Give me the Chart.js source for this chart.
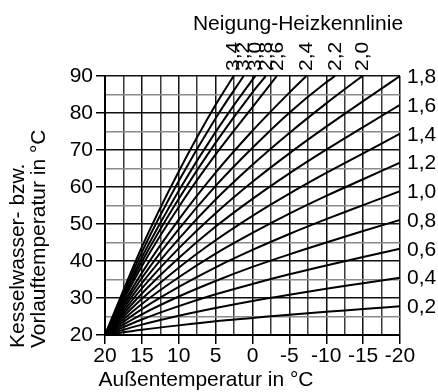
<!DOCTYPE html>
<html>
<head>
<meta charset="utf-8">
<script src="https://cdn.jsdelivr.net/npm/chart.js@4.4.1/dist/chart.umd.min.js"></script>
<style>
  html, body { margin: 0; padding: 0; background: #fff; }
  #c { display: block; }
</style>
</head>
<body>
<canvas id="c" width="438" height="392" style="width:438px;height:392px"></canvas>
<script>
// ---- data ----
const outsideTemp = [20, 15, 10, 5, 0, -5, -10, -15, -20];
const slopeLabels = ['0,2','0,4','0,6','0,8','1,0','1,2','1,4','1,6','1,8','2,0','2,2','2,4','2,6','2,8','3,0','3,2','3,4'];
const vt02 = [20, 21.4, 22.6, 23.7, 24.6, 25.5, 26.3, 27.0, 27.8];
const vt04 = [20, 22.8, 25.2, 27.3, 29.2, 30.9, 32.5, 34.0, 35.5];
const vt06 = [20, 24.2, 27.8, 31.0, 33.8, 36.4, 38.8, 41.1, 43.3];
const vt08 = [20, 25.6, 30.4, 34.6, 38.4, 41.8, 45.0, 48.1, 51.1];
const vt10 = [20, 27.0, 33.0, 38.3, 43.0, 47.3, 51.3, 55.1, 58.9];
const vt12 = [20, 28.4, 35.6, 42.0, 47.6, 52.8, 57.6, 62.1, 66.6];
const vt14 = [20, 29.8, 38.2, 45.6, 52.2, 58.2, 63.8, 69.1, 74.4];
const vt16 = [20, 31.2, 40.8, 49.3, 56.8, 63.7, 70.1, 76.2, 82.2];
const vt18 = [20, 32.6, 43.4, 52.9, 61.4, 69.1, 76.3, 83.2, 90.0];
const vt20 = [20, 34.0, 46.0, 56.6, 66.0, 74.6, 82.6, 90.0];
const vt22 = [20, 35.4, 48.6, 60.3, 70.6, 80.1, 88.3, 90.0];
const vt24 = [20, 36.8, 51.2, 63.9, 75.2, 85.5, 90.0];
const vt26 = [20, 38.6, 54.6, 68.8, 81.6, 90.0];
const vt28 = [20, 39.8, 56.8, 72.0, 85.6, 90.0];
const vt30 = [20, 41.0, 59.0, 74.9, 89.0, 90.0];
const vt32 = [20, 42.4, 61.6, 78.6, 90.0];
const vt34 = [20, 43.8, 64.2, 82.2, 90.0];
// outside temperature where the steep curves (2,0 ... 3,4) reach the top edge (90 °C)
const topCrossTemp = [-14.9, -11.2, -7.3, -3.3, -1.8, -0.4, 1.2, 2.56];
const yTicks = [20, 30, 40, 50, 60, 70, 80, 90];
const xTicks = [20, 15, 10, 5, 0, -5, -10, -15, -20];

const flatCurves = [vt02, vt04, vt06, vt08, vt10, vt12, vt14, vt16, vt18];
const steepCurves = [vt20, vt22, vt24, vt26, vt28, vt30, vt32, vt34];

function toPoints(arr, crossX) {
  return arr.map((v, i) => {
    if (crossX !== undefined && i === arr.length - 1) return { x: crossX, y: v };
    return { x: outsideTemp[i], y: v };
  });
}

const datasets = [];
flatCurves.forEach((arr, i) => datasets.push({
  label: slopeLabels[i], data: toPoints(arr), kind: 'right'
}));
steepCurves.forEach((arr, i) => datasets.push({
  label: slopeLabels[9 + i], data: toPoints(arr, topCrossTemp[i]), kind: 'top'
}));
datasets.forEach(d => {
  d.borderColor = '#000';
  d.borderWidth = 2;
  d.pointRadius = 0;
  d.fill = false;
  d.cubicInterpolationMode = 'monotone';
});

const FONT = '"Liberation Sans", Arial, Helvetica, sans-serif';

const textPlugin = {
  id: 'texts',
  afterDraw(chart) {
    const c = chart.ctx;
    const xs = chart.scales.x, ys = chart.scales.y;
    c.save();
    c.fillStyle = '#000';
    // title
    c.font = '21px ' + FONT;
    c.textAlign = 'center';
    c.textBaseline = 'alphabetic';
    c.fillText('Neigung-Heizkennlinie', 298, 30);
    // x axis title
    c.fillText('Außentemperatur in °C', 206, 386);
    // y axis title (two lines, rotated, start aligned at bottom)
    c.save();
    c.translate(0, 348);
    c.rotate(-Math.PI / 2);
    c.textAlign = 'left';
    c.fillText('Kesselwasser- bzw.', 0, 24);
    c.fillText('Vorlauftemperatur in °C', 0, 45);
    c.restore();
    // curve labels
    c.font = '21px ' + FONT;
    chart.data.datasets.forEach(ds => {
      const last = ds.data[ds.data.length - 1];
      const px = xs.getPixelForValue(last.x);
      const py = ys.getPixelForValue(last.y);
      if (ds.kind === 'right') {
        c.textAlign = 'left';
        c.textBaseline = 'middle';
        c.fillText(ds.label, px + 7, py + 1);
      } else {
        c.save();
        c.translate(px, 71);
        c.rotate(-Math.PI / 2);
        c.scale(1, 0.85);
        c.textAlign = 'left';
        c.textBaseline = 'middle';
        c.fillText(ds.label, 0, 1);
        c.restore();
      }
    });
    c.restore();
  }
};

const isMult = (v, m) => Math.abs(v / m - Math.round(v / m)) < 1e-6;

new Chart(document.getElementById('c'), {
  type: 'line',
  data: { datasets },
  options: {
    responsive: false,
    animation: false,
    events: [],
    layout: { padding: { top: 76, right: 38, left: 0, bottom: 0 } },
    plugins: { legend: { display: false }, tooltip: { enabled: false }, title: { display: false } },
    scales: {
      x: {
        type: 'linear',
        reverse: true,
        min: -20, max: 20,
        afterFit: s => { s.height = 57; },
        afterBuildTicks: s => {
          const t = [];
          for (let v = -20; v <= 20.001; v += 2.5) t.push({ value: v });
          s.ticks = t;
        },
        ticks: {
          autoSkip: false, maxRotation: 0, minRotation: 0,
          color: '#000', font: { family: FONT, size: 21 }, padding: 0,
          callback: v => (xTicks.some(t => Math.abs(t - v) < 1e-6) ? String(v) : '')
        },
        grid: {
          color: ctx => (ctx.tick && isMult(ctx.tick.value, 5)) ? '#111' : '#3a3a3a',
          lineWidth: 1.5,
          tickLength: 9,
          tickColor: ctx => (ctx.tick && isMult(ctx.tick.value, 5)) ? '#000' : 'rgba(0,0,0,0)',
          tickWidth: 1.5
        },
        border: { display: true, color: '#000', width: 2 }
      },
      y: {
        type: 'linear',
        min: 20, max: 90,
        afterFit: s => { s.width = 105; },
        afterBuildTicks: s => {
          const t = [];
          for (let v = 20; v <= 90.001; v += 5) t.push({ value: v });
          s.ticks = t;
        },
        ticks: {
          autoSkip: false,
          color: '#000', font: { family: FONT, size: 21 }, padding: 3,
          callback: v => (yTicks.includes(v) ? String(v) : '')
        },
        grid: {
          color: ctx => (ctx.tick && isMult(ctx.tick.value, 10)) ? '#111' : '#8a8a8a',
          lineWidth: 1.5,
          tickLength: 9,
          tickColor: ctx => (ctx.tick && isMult(ctx.tick.value, 10)) ? '#000' : 'rgba(0,0,0,0)',
          tickWidth: 1.5
        },
        border: { display: true, color: '#000', width: 2 }
      }
    }
  },
  plugins: [textPlugin]
});
</script>
</body>
</html>
